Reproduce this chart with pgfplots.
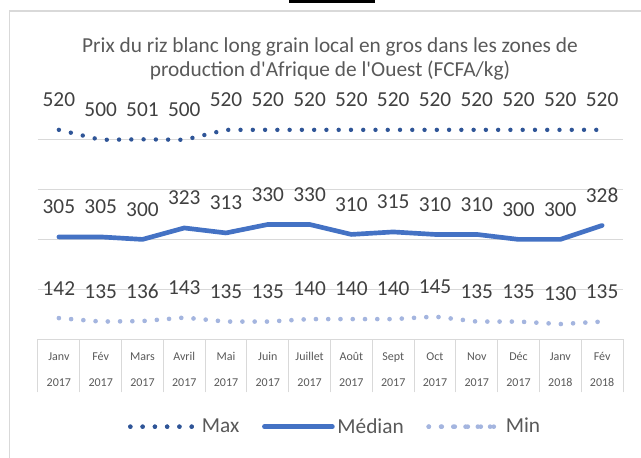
\documentclass[border=0pt]{standalone}
\usepackage{pgfplots}
\pgfplotsset{compat=1.18}
\usepackage{fontspec}
\setmainfont{Carlito}
\definecolor{maxc}{HTML}{2F5597}
\definecolor{medc}{HTML}{4472C4}
\definecolor{minc}{HTML}{A4B5DF}
\definecolor{gridc}{HTML}{D9D9D9}
\definecolor{txt}{HTML}{595959}
\definecolor{lbl}{HTML}{404040}
\pgfplotsset{
  legdots/.style={legend image code/.code={\path (0pt,0pt) -- (50pt,0pt);\draw[##1] (0pt,0pt) -- (46pt,0pt);}},
  legdotsmin/.style={legend image code/.code={\path (0pt,0pt) -- (54pt,0pt);\draw[##1, dash pattern=on 0pt off 9.75pt] (0pt,0pt) -- (48.8pt,0pt);}},
  legline/.style={legend image code/.code={\draw[##1] (0pt,0pt) -- (51pt,0pt);}},
}
\begin{document}
\begin{tikzpicture}
\useasboundingbox (0pt,0pt) rectangle (480.75pt,-342.75pt);
% outer chart frame
\draw[gridc, line width=0.9pt] (7.1pt,-360pt) -- (7.1pt,-8.25pt) -- (500pt,-8.25pt);
\draw[black, line width=2.4pt] (216.75pt,-1.2pt) -- (281.25pt,-1.2pt);
% title
\node[anchor=base, text=txt, font=\fontsize{16}{19}\selectfont, inner sep=0pt] at (247.5pt,-39.5pt) {Prix du riz blanc long grain local en gros dans les zones de};
\node[anchor=base, text=txt, font=\fontsize{16}{19}\selectfont, inner sep=0pt] at (247.5pt,-57.5pt) {production d\textquotesingle Afrique de l\textquotesingle Ouest (FCFA/kg)};
\begin{axis}[
  at={(28.5pt,-254.25pt)}, anchor=south west,
  scale only axis, width=438.75pt, height=186.75pt,
  xmin=-0.5, xmax=13.5, ymin=100, ymax=600,
  clip=false,
  axis line style={draw=none},
  ytick={100,200,300,400,500}, yticklabels={{},{},{},{},{}},
  ymajorgrids, grid style={gridc, line width=0.75pt},
  major tick length=0pt,
  xtick={0,...,13},
  xticklabels={{Janv\\2017},{Fév\\2017},{Mars\\2017},{Avril\\2017},{Mai\\2017},{Juin\\2017},{Juillet\\2017},{Août\\2017},{Sept\\2017},{Oct\\2017},{Nov\\2017},{Déc\\2017},{Janv\\2018},{Fév\\2018}},
  xticklabel style={align=center, anchor=center, yshift=-23pt, text=txt, font=\fontsize{9}{19.5}\selectfont},
  xtick pos=bottom, ytick pos=left,
  extra x ticks={-0.5,0.5,...,13.5},
  extra x tick labels={},
  extra x tick style={major tick length=40pt, tick align=outside, tick style={draw=gridc, line width=0.75pt}},
  /pgf/number format/assume math mode=true,
  nodes near coords,
  every node near coord/.append style={anchor=center, yshift=22.5pt, text=lbl, font=\fontsize{16}{19}\selectfont},
  legend columns=3,
  legend style={at={(axis description cs:0.5085,-0.352)}, anchor=center, draw=none, fill=none,
    font=\fontsize{16}{19}\selectfont, text=txt,
    /tikz/every even column/.append style={column sep=15pt}},
]
\addplot[maxc, line width=3.3pt, line cap=round, dash pattern=on 0pt off 9.2pt, legdots]
  coordinates {(0,520) (1,500) (2,501) (3,500) (4,520) (5,520) (6,520) (7,520) (8,520) (9,520) (10,520) (11,520) (12,520) (13,520)};
\addlegendentry{Max}
\addplot[medc, line width=3.5pt, line cap=round, line join=round, legline]
  coordinates {(0,305) (1,305) (2,300) (3,323) (4,313) (5,330) (6,330) (7,310) (8,315) (9,310) (10,310) (11,300) (12,300) (13,328)};
\addlegendentry{Médian}
\addplot[minc, line width=3.5pt, line cap=round, dash pattern=on 0pt off 9.2pt, legdotsmin]
  coordinates {(0,142) (1,135) (2,136) (3,143) (4,135) (5,135) (6,140) (7,140) (8,140) (9,145) (10,135) (11,135) (12,130) (13,135)};
\addlegendentry{Min}
\end{axis}
\end{tikzpicture}
\end{document}
